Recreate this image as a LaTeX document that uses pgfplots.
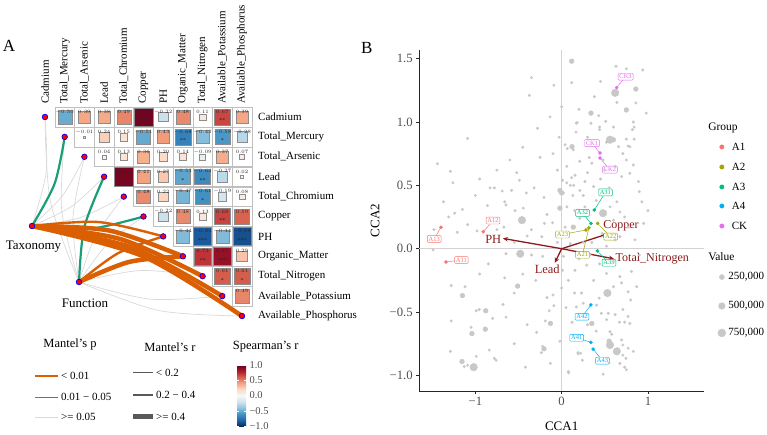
\documentclass[border=0pt]{standalone}
\usepackage{fontspec}
\setmainfont{Liberation Serif}
\usepackage{pgfplots}
\pgfplotsset{compat=1.18}
\usepackage{pgfplotstable}
\usetikzlibrary{arrows.meta}

\definecolor{mOrange}{HTML}{D95F02}
\definecolor{mGreen}{HTML}{1B9E77}
\definecolor{mGray}{HTML}{D9D9D9}
\definecolor{cA1}{HTML}{F8766D}
\definecolor{cA2}{HTML}{A3A500}
\definecolor{cA3}{HTML}{00BF7D}
\definecolor{cA4}{HTML}{00B0F6}
\definecolor{cCK}{HTML}{E76BF3}
\definecolor{arr}{HTML}{8B1A1A}
\definecolor{ptGray}{HTML}{C8C8C8}
\definecolor{tickGray}{HTML}{4D4D4D}

\pgfplotstableread{
i j r
0 1 -0.50
0 2 0.39
0 3 0.38
0 4 0.49
0 5 0.97
0 6 -0.22
0 7 0.48
0 8 0.11
0 9 0.67
0 10 0.39
1 2 -0.01
1 3 0.24
1 4 0.15
1 5 -0.51
1 6 0.43
1 7 -0.68
1 8 -0.43
1 9 -0.58
1 10 -0.28
2 3 0.04
2 4 0.13
2 5 0.36
2 6 0.20
2 7 0.14
2 8 -0.09
2 9 0.37
2 10 0.07
3 4 0.96
3 5 0.41
3 6 0.27
3 7 -0.53
3 8 -0.64
3 9 -0.27
3 10 0.02
4 5 0.48
4 6 0.22
4 7 -0.47
4 8 -0.61
4 9 -0.19
4 10 0.08
5 6 -0.22
5 7 0.48
5 8 0.13
5 9 0.68
5 10 0.59
6 7 -0.44
6 8 -0.84
6 9 -0.44
6 10 -0.88
7 8 0.73
7 9 0.87
7 10 0.29
8 9 0.61
8 10 0.61
9 10 0.49
}\corrtab

\pgfplotstableread{
i j st
0 5 ***
0 9 **
1 7 **
1 9 *
3 7 *
3 8 **
4 8 *
5 9 **
6 8 ***
6 10 ***
7 8 **
7 9 ***
8 9 *
8 10 *
}\startab

\newcommand\samp[6]{%
  \addplot[#1, line width=0.5pt] coordinates {(#3,#4) (#5,#6)};
  \node[draw=#1, text=#1, fill=white, rounded corners=1pt, inner sep=1.3pt, line width=0.45pt, font=\fontsize{6.5}{7}\selectfont] at (axis cs:#5,#6) {#2};
  \addplot[only marks, mark=*, mark size=1.6pt, #1] coordinates {(#3,#4)};
}

\begin{document}
\begin{tikzpicture}
\useasboundingbox (0,0) rectangle (767pt,-435pt);

% ---------------- Panel A ----------------
\begin{axis}[
  at={(0pt,0pt)}, anchor=north west,
  scale only axis, width=767pt, height=435pt,
  xmin=0, xmax=767, ymin=0, ymax=435, y dir=reverse,
  axis lines=none, xtick=\empty, ytick=\empty, clip=false,
  colormap={rdbu}{rgb255=(5,48,97) rgb255=(33,102,172) rgb255=(67,147,195) rgb255=(146,197,222) rgb255=(209,229,240) rgb255=(247,247,247) rgb255=(253,219,199) rgb255=(244,165,130) rgb255=(214,96,77) rgb255=(178,24,43) rgb255=(103,0,31)},
  point meta min=-1, point meta max=1,
  colorbar,
  colorbar shift/.style={xshift=237pt, yshift=-365pt},
  colorbar style={
    at={(parent axis.north west)}, anchor=north west,
    scale only axis, width=9pt, height=61pt, y dir=normal,
    ytick={-1,-0.5,0,0.5,1},
    yticklabels={−1.0,−0.5,0.0,0.5,1.0},
    yticklabel style={font=\fontsize{10.5}{12}\selectfont, text=tickGray},
    major tick length=2pt,
    tick style={white, line width=0.5pt},
    axis line style={draw=none},
  },
]
% Mantel lines: gray
\addplot[mGray, line width=0.7pt, smooth] coordinates {(32,226) (46.1,172.4) (45,117)};
\addplot[mGray, line width=0.7pt, smooth] coordinates {(32,226) (63.0,195.1) (84.4,156.8)};
\addplot[mGray, line width=0.7pt, smooth] coordinates {(32,226) (71.5,206.4) (104.1,176.7)};
\addplot[mGray, line width=0.7pt, smooth] coordinates {(32,226) (80.0,217.7) (123.8,196.6)};
\addplot[mGray, line width=0.7pt, smooth] coordinates {(79,282) (50.5,201.9) (45,117)};
\addplot[mGray, line width=0.7pt, smooth] coordinates {(79,282) (61.7,210.5) (64.7,136.9)};
\addplot[mGray, line width=0.7pt, smooth] coordinates {(79,282) (72.9,219.0) (84.4,156.8)};
\addplot[mGray, line width=0.7pt, smooth] coordinates {(79,282) (95.4,236.2) (123.8,196.6)};
\addplot[mGray, line width=0.7pt, smooth] coordinates {(79,282) (106.7,244.7) (143.5,216.5)};
\addplot[mGray, line width=0.7pt, smooth] coordinates {(79,282) (140.4,270.5) (202.6,276.2)};
\addplot[mGray, line width=0.7pt, smooth] coordinates {(79,282) (149.7,299.1) (222.3,296.1)};
\addplot[mGray, line width=0.7pt, smooth] coordinates {(79,282) (158.1,310.4) (242,316)};
% green
\addplot[mGreen, line width=2.2pt, smooth] coordinates {(32,226) (54.6,183.7) (64.7,136.9)};
\addplot[mGreen, line width=2.2pt, smooth] coordinates {(32,226) (88.4,229.1) (143.5,216.5)};
\addplot[mGreen, line width=2.2pt, smooth] coordinates {(79,282) (84.2,227.6) (104.1,176.7)};
% orange
\addplot[mOrange, line width=2.4pt, smooth] coordinates {(32,226) (98.3,222.0) (163.2,236.4)};
\addplot[mOrange, line width=4.5pt, smooth] coordinates {(32,226) (109.6,230.6) (182.9,256.3)};
\addplot[mOrange, line width=4.5pt, smooth] coordinates {(32,226) (120.8,239.2) (202.6,276.2)};
\addplot[mOrange, line width=4.5pt, smooth] coordinates {(32,226) (132.1,247.7) (222.3,296.1)};
\addplot[mOrange, line width=4.5pt, smooth] coordinates {(32,226) (143.3,256.3) (242,316)};
\addplot[mOrange, line width=2.4pt, smooth] coordinates {(79,282) (117.9,253.3) (163.2,236.4)};
\addplot[mOrange, line width=4.5pt, smooth] coordinates {(79,282) (129.2,261.9) (182.9,256.3)};

% grid cells
\addplot[only marks, mark=square, mark size=9.85pt, mark options={draw=black!25, line width=0.5pt}]
  table[x expr=45+19.7*\thisrow{j}, y expr=117+19.9*\thisrow{i}] {\corrtab};
% squares
\addplot[scatter, only marks, mark=square*, point meta=\thisrow{r},
  scatter/use mapped color={draw=black!45, fill=mapped color},
  visualization depends on={min(9.3,9.9*sqrt(abs(\thisrow{r})))\as\msz},
  scatter/@pre marker code/.append style={/tikz/mark size=\msz pt},
  mark options={line width=0.4pt}]
  table[x expr=45+19.7*\thisrow{j}, y expr=117+19.9*\thisrow{i}] {\corrtab};
% numbers
\addplot[only marks, mark=none, point meta=\thisrow{r},
  nodes near coords={\pgfmathprintnumber[fixed,fixed zerofill,precision=2]{\pgfplotspointmeta}},
  every node near coord/.append style={font=\fontsize{4.8}{5}\selectfont, anchor=center, inner sep=0pt, text=black!85}]
  table[x expr=45+19.7*\thisrow{j}, y expr=117+19.9*\thisrow{i}-5] {\corrtab};
% stars
\addplot[only marks, mark=none, point meta=explicit symbolic, nodes near coords,
  every node near coord/.append style={font=\fontsize{6}{6}\selectfont, anchor=center, inner sep=0pt, text=black!85}]
  table[x expr=45+19.7*\thisrow{j}, y expr=117+19.9*\thisrow{i}+4, meta=st] {\startab};

% nodes
\addplot[only marks, mark=*, mark size=2.8pt, mark options={fill=red, draw=blue, line width=0.7pt}]
  coordinates {(45,117) (64.7,136.9) (84.4,156.8) (104.1,176.7) (123.8,196.6) (143.5,216.5) (163.2,236.4) (182.9,256.3) (202.6,276.2) (222.3,296.1) (242,316) (32,226) (79,282)};

% labels
\node[font=\fontsize{17}{18}\selectfont] at (axis cs:9,46) {A};
\foreach \n [count=\k from 0] in {Cadmium,Total\_Mercury,Total\_Arsenic,Lead,Total\_Chromium,Copper,PH,Organic\_Matter,Total\_Nitrogen,Available\_Potassium,Available\_Phosphorus}{
  \edef\temp{\noexpand\node[anchor=west, font=\noexpand\fontsize{11}{12}\noexpand\selectfont, inner sep=0pt] at (axis cs:258,{117+19.9*\k}) {\n};
    \noexpand\node[anchor=west, rotate=90, font=\noexpand\fontsize{11}{12}\noexpand\selectfont, inner sep=0pt] at (axis cs:{45+19.7*\k},104) {\n};}
  \temp
}
\node[font=\fontsize{13}{14}\selectfont] at (axis cs:33.5,247) {Taxonomy};
\node[font=\fontsize{13}{14}\selectfont] at (axis cs:85,303) {Function};

% legends
\node[font=\fontsize{12.5}{14}\selectfont] at (axis cs:70,344) {Mantel's p};
\addplot[mOrange, line width=1.3pt] coordinates {(35,376) (58,376)};
\addplot[mGreen, line width=1.3pt] coordinates {(35,397.3) (58,397.3)};
\addplot[mGray, line width=1.3pt] coordinates {(35,417.3) (58,417.3)};
\node[anchor=west, font=\fontsize{11}{12}\selectfont, inner sep=0pt] at (axis cs:61,376) {< 0.01};
\node[anchor=west, font=\fontsize{11}{12}\selectfont, inner sep=0pt] at (axis cs:61,397.3) {0.01 − 0.05};
\node[anchor=west, font=\fontsize{11}{12}\selectfont, inner sep=0pt] at (axis cs:61,417.3) {>= 0.05};

\node[font=\fontsize{12.5}{14}\selectfont] at (axis cs:170,347.7) {Mantel's r};
\addplot[black!65, line width=0.8pt] coordinates {(133,372.7) (153,372.7)};
\addplot[black!65, line width=2.5pt] coordinates {(133,395) (153,395)};
\addplot[black!65, line width=5pt] coordinates {(133,416.7) (153,416.7)};
\node[anchor=west, font=\fontsize{11}{12}\selectfont, inner sep=0pt] at (axis cs:156,372.7) {< 0.2};
\node[anchor=west, font=\fontsize{11}{12}\selectfont, inner sep=0pt] at (axis cs:156,395) {0.2 − 0.4};
\node[anchor=west, font=\fontsize{11}{12}\selectfont, inner sep=0pt] at (axis cs:156,416.7) {>= 0.4};

\node[anchor=west, font=\fontsize{12.5}{14}\selectfont, inner sep=0pt] at (axis cs:232.7,346.7) {Spearman's r};
\node[font=\fontsize{17}{18}\selectfont] at (axis cs:366.7,47.7) {B};
\end{axis}

% ---------------- Panel B ----------------
\begin{axis}[
  at={(419.3pt,-391pt)}, anchor=south west,
  scale only axis, width=284.7pt, height=341pt,
  xmin=-1.65, xmax=1.65, ymin=-1.123, ymax=1.568,
  axis x line*=bottom, axis y line*=left,
  axis line style={-, black!85, line width=0.6pt},
  tick align=outside, major tick length=3pt,
  tick style={black!85, line width=0.6pt},
  xtick={-1,0,1}, xticklabels={−1,0,1},
  ytick={-1,-0.5,0,0.5,1,1.5}, yticklabels={−1.0,−0.5,0.0,0.5,1.0,1.5},
  ticklabel style={font=\fontsize{12.7}{14}\selectfont, text=tickGray},
  xlabel={CCA1}, ylabel={CCA2},
  label style={font=\fontsize{13}{14}\selectfont},
  xlabel style={at={(axis description cs:0.5,-0.103)}, anchor=center},
  ylabel style={at={(axis description cs:-0.155,0.5)}, anchor=center},
  clip=false,
]
\addplot[ptGray!80, line width=0.7pt] coordinates {(0,-1.123) (0,1.568)};
\addplot[ptGray!80, line width=0.7pt] coordinates {(-1.65,0) (1.65,0)};

% small gray points
\addplot[only marks, mark=*, mark size=1.3pt, ptGray] coordinates {
(-0.35,1.35) (-0.09,1.29) (-0.375,1.21) (0.0,1.12) (-0.135,1.04) (-0.28,0.95) (-1.09,0.87) (0.116,1.31) (0.17,0.99) (0.166,0.92)
(0.63,1.44) (0.75,1.42) (0.94,1.41) (0.45,1.32) (0.64,1.155) (0.86,1.15) (0.98,1.07) (0.43,1.05) (0.51,1.005) (0.18,0.995)
(0.34,0.99) (0.44,0.96) (0.44,0.94) (0.60,0.96) (0.83,1.0) (0.84,0.96) (0.82,0.94) (0.52,0.84) (0.75,0.865) (0.84,0.865)
(0.77,0.81) (0.66,0.805) (0.065,0.79)
(-1.44,0.67) (-1.29,0.61) (-1.26,0.52) (-1.37,0.37) (-1.15,0.31) (-1.24,0.28) (-1.31,0.25) (-1.21,0.13) (-1.48,0.15) (-1.49,-0.01)
(-0.83,0.48) (-0.78,0.48) (-0.69,0.455) (-0.52,0.6) (-0.49,0.54) (-0.58,0.46) (-0.41,0.44) (-0.32,0.48) (-0.205,0.405) (0.06,0.52)
(0.116,0.56) (0.01,0.54) (0.13,0.42) (0.14,0.50) (-0.66,0.37) (-0.645,0.345) (-0.54,0.30) (-0.445,0.32) (-0.86,0.34) (-1.09,0.19)
(-0.98,0.14) (-0.75,0.15) (-0.67,0.17) (-0.35,0.15) (-0.23,0.095) (-0.105,0.205) (-0.17,0.27) (-0.645,-0.04) (-0.35,-0.05) (-0.22,-0.06)
(0.01,-0.17) (-0.66,-0.23) (-1.28,-0.29) (-1.12,-0.30)
(-0.68,-0.44) (-0.99,-0.49) (-0.955,-0.48) (-0.645,-0.54) (-1.28,-0.57) (-1.05,-0.62) (-1.29,-0.81) (-1.09,-0.92) (-1.13,-0.93) (-0.99,-0.85)
(-0.84,-0.80) (-0.78,-0.865) (-0.76,-0.88) (-0.42,-0.935) (-0.29,-0.66) (-0.22,-0.77) (-0.235,-0.82) (-0.13,-0.905) (-0.02,-0.73) (0.08,-0.98)
(-0.17,-0.385) (-0.10,-0.365) (-0.09,-0.45) (-0.145,-0.49) (-0.19,-0.57) (0.05,-0.465) (0.17,-0.46) (0.12,-0.58) (0.19,-0.83) (0,-0.31)
(0.695,-0.27) (0.77,-0.34) (0.80,-0.405) (0.23,-0.35) (0.25,-0.43) (0.435,-0.39) (0.405,-0.445) (0.46,-0.51) (0.54,-0.51) (0.62,-0.52)
(0.71,-0.48) (0.77,-0.535) (0.67,-0.58) (0.73,-0.58) (0.79,-0.59) (0.52,-0.56) (0.56,-0.655) (0.58,-0.675) (0.695,-0.72) (0.71,-0.76)
(0.77,-0.785) (0.83,-0.81) (0.71,-0.84) (0.745,-0.865) (0.675,-0.905) (0.73,-0.935) (0.75,-0.955) (0.48,-0.99) (0.22,-0.825) (0.19,-0.82)
(0.24,-0.88) (0.077,-0.97)
(0.04,0.82) (0.135,0.78) (0.71,0.75) (0.79,0.805) (0.75,0.70) (0.83,0.66) (0.62,0.65) (0.695,0.57) (0.79,0.595) (0.89,0.53)
(0.93,0.37) (0.21,0.69) (0.35,0.675) (0.06,0.65) (0.155,0.58) (0.27,0.53) (0.21,0.46) (0.37,0.49) (0.10,0.50) (0.02,0.44)
(0.06,0.33) (0.56,0.33) (0.64,0.37) (0.675,0.29) (0.60,0.225) (0.73,0.25) (0.77,0.17) (0.62,0.07) (0.675,0.095) (0.85,0.07)
(0.27,0.33) (0.21,0.24) (0.04,0.17) (0.10,0.04) (0.02,-0.06) (0.155,-0.17) (0.29,-0.13) (0.077,-0.25) (0.37,-0.25) (0.52,-0.195)
(0.675,-0.22) (0.81,-0.18) (0.87,-0.30) (0.60,-0.30)
(0.3,0.6) (0.45,0.55) (0.5,0.62) (0.25,0.42) (0.4,0.38) (0.47,0.12) (0.52,0.02) (0.25,0.05) (0.33,-0.05) (0.44,-0.12)
(0.2,-0.08) (0.15,0.3) (0.32,0.72) (0.55,0.48) (0.48,0.7) (-0.05,0.62) (-0.1,0.75) (-0.03,0.88) (-0.25,0.72) (-0.45,0.8)
(-0.6,0.7) (-0.75,0.62) (-0.95,0.55) (-1.0,0.42) (-0.4,0.1) (-0.55,0.05) (-0.85,-0.12) (-0.95,-0.2) (-0.45,-0.2) (-0.3,-0.25)
(-0.55,-0.35) (-0.8,-0.55) (-0.4,-0.6) (-0.55,-0.75) (0.3,0.88) (0.2,1.1) (0.38,1.2) (-0.2,0.2) (-0.05,0.05) (0.35,0.05)
(0.15,-0.35) (0.4,-0.65) (0.3,-0.6) (0.6,-0.1) (0.9,-0.05) (0.95,0.2) (1.0,0.3) (0.9,0.45) (0.55,-0.9)
};
% medium gray points
\addplot[only marks, mark=*, mark size=2.4pt, ptGray] coordinates {
(0.116,1.48) (0.12,0.805) (0.86,1.26) (0.75,1.095) (0.34,1.07) (0.60,0.86) (-0.02,0.46) (0.0,0.44) (-0.02,0.32) (-0.51,-0.295)
(-1.15,-0.37) (-0.88,-0.49) (-1.04,-0.67) (-0.885,-0.635) (-1.155,-0.89) (-0.205,-0.79) (-0.13,-0.59) (0.35,-0.59) (0.55,-0.73) (0.135,0.17)
};
% large gray points
\addplot[only marks, mark=*, mark size=3.8pt, ptGray] coordinates {
(0.62,1.23) (0.56,0.86) (-0.46,0.225) (-0.48,-0.04) (-1.02,-0.935) (0.53,-0.35) (0.56,-0.76) (0.64,-0.81) (0.48,0.28)
};

% arrows
\addplot[arr, line width=1.3pt, -{Stealth[length=5pt,width=4.5pt]}] coordinates {(0,0) (-0.68,0.081)};
\addplot[arr, line width=1.3pt, -{Stealth[length=5pt,width=4.5pt]}] coordinates {(0,0) (-0.079,-0.111)};
\addplot[arr, line width=1.3pt, -{Stealth[length=5pt,width=4.5pt]}] coordinates {(0,0) (0.526,0.115)};
\addplot[arr, line width=1.3pt, -{Stealth[length=5pt,width=4.5pt]}] coordinates {(0,0) (0.606,-0.080)};

% samples
\samp{cCK}{CK3}{0.637}{1.271}{0.741}{1.357}
\samp{cCK}{CK1}{0.444}{0.755}{0.351}{0.833}
\samp{cCK}{CK2}{0.444}{0.716}{0.559}{0.624}
\samp{cA3}{A31}{0.378}{0.305}{0.507}{0.444}
\samp{cA3}{A32}{0.339}{0.199}{0.241}{0.283}
\samp{cA2}{A22}{0.417}{0.199}{0.568}{0.095}
\samp{cA2}{A23}{0.282}{0.148}{0.010}{0.112}
\samp{cA2}{A21}{0.316}{0.164}{0.241}{-0.048}
\samp{cA3}{A33}{0.414}{-0.018}{0.548}{-0.111}
\samp{cA1}{A12}{-0.908}{0.134}{-0.795}{0.222}
\samp{cA1}{A13}{-1.399}{0.169}{-1.477}{0.077}
\samp{cA1}{A11}{-1.340}{-0.105}{-1.163}{-0.089}
\samp{cA4}{A42}{0.339}{-0.444}{0.235}{-0.537}
\samp{cA4}{A41}{0.339}{-0.739}{0.174}{-0.703}
\samp{cA4}{A43}{0.365}{-0.792}{0.473}{-0.884}

% arrow labels
\node[text=arr, font=\fontsize{12.5}{14}\selectfont] at (axis cs:-0.793,0.077) {PH};
\node[text=arr, font=\fontsize{12.5}{14}\selectfont] at (axis cs:-0.167,-0.163) {Lead};
\node[text=arr, font=\fontsize{12}{14}\selectfont] at (axis cs:0.687,0.182) {Copper};
\node[text=arr, font=\fontsize{12}{14}\selectfont] at (axis cs:1.05,-0.081) {Total\_Nitrogen};

% legend
\node[anchor=west, font=\fontsize{11.5}{13}\selectfont, inner sep=0pt] at (axis cs:1.697,0.951) {Group};
\addplot[only marks, mark=*, mark size=2.2pt, cA1] coordinates {(1.857,0.803)};
\addplot[only marks, mark=*, mark size=2.2pt, cA2] coordinates {(1.857,0.645)};
\addplot[only marks, mark=*, mark size=2.2pt, cA3] coordinates {(1.857,0.487)};
\addplot[only marks, mark=*, mark size=2.2pt, cA4] coordinates {(1.857,0.337)};
\addplot[only marks, mark=*, mark size=2.2pt, cCK] coordinates {(1.857,0.179)};
\node[anchor=west, font=\fontsize{11}{12}\selectfont, inner sep=0pt] at (axis cs:1.97,0.803) {A1};
\node[anchor=west, font=\fontsize{11}{12}\selectfont, inner sep=0pt] at (axis cs:1.97,0.645) {A2};
\node[anchor=west, font=\fontsize{11}{12}\selectfont, inner sep=0pt] at (axis cs:1.97,0.487) {A3};
\node[anchor=west, font=\fontsize{11}{12}\selectfont, inner sep=0pt] at (axis cs:1.97,0.337) {A4};
\node[anchor=west, font=\fontsize{11}{12}\selectfont, inner sep=0pt] at (axis cs:1.97,0.179) {CK};
\node[anchor=west, font=\fontsize{11.5}{13}\selectfont, inner sep=0pt] at (axis cs:1.697,-0.066) {Value};
\addplot[only marks, mark=*, mark size=2.5pt, ptGray] coordinates {(1.857,-0.224)};
\addplot[only marks, mark=*, mark size=3.3pt, ptGray] coordinates {(1.857,-0.452)};
\addplot[only marks, mark=*, mark size=4.0pt, ptGray] coordinates {(1.857,-0.665)};
\node[anchor=west, font=\fontsize{11}{12}\selectfont, inner sep=0pt] at (axis cs:1.93,-0.224) {250,000};
\node[anchor=west, font=\fontsize{11}{12}\selectfont, inner sep=0pt] at (axis cs:1.93,-0.452) {500,000};
\node[anchor=west, font=\fontsize{11}{12}\selectfont, inner sep=0pt] at (axis cs:1.93,-0.665) {750,000};
\end{axis}
\end{tikzpicture}
\end{document}
